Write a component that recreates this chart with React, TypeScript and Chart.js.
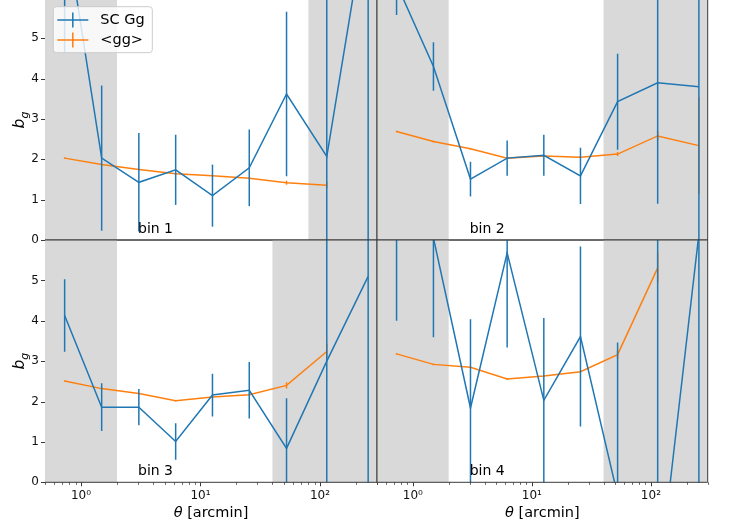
import React, { useEffect, useRef } from "react";
import { Chart, registerables } from "chart.js";

Chart.register(...registerables);

// Angular separation of each measurement [arcmin]
const theta = [0.73, 1.49, 3.05, 6.2, 12.6, 25.6, 52.5, 114, 253];

// Bin 1
const scGgBin1 = [7.9, 2.03, 1.43, 1.74, 1.1, 1.79, 3.62, 2.07, 8.3];
const scGgErrBin1 = [3.25, 1.8, 1.22, 0.87, 0.77, 0.95, 2.04, 5.0, 9.0];
const ggBin1 = [2.03, 1.87, 1.75, 1.64, 1.59, 1.53, 1.42, 1.36, null];
const ggErrBin1 = [0.02, 0.02, 0.02, 0.02, 0.02, 0.02, 0.05, 0.08, null];
const maskedBin1 = [[0.5, 2], [80, 300]];

// Bin 2
const scGgBin2 = [6.35, 4.3, 1.51, 2.03, 2.1, 1.59, 3.43, 3.9, 3.8];
const scGgErrBin2 = [0.77, 0.6, 0.43, 0.44, 0.51, 0.7, 1.19, 3.0, 5.0];
const ggBin2 = [2.69, 2.44, 2.26, 2.03, 2.08, 2.05, 2.13, 2.58, 2.34];
const ggErrBin2 = [0.02, 0.02, 0.02, 0.02, 0.02, 0.02, 0.05, 0.12, 1.2];
const maskedBin2 = [[0.5, 2], [40, 300]];

// Bin 3
const scGgBin3 = [4.13, 1.86, 1.86, 1.01, 2.16, 2.28, 0.84, 3.0, 5.1];
const scGgErrBin3 = [0.9, 0.59, 0.45, 0.45, 0.53, 0.7, 1.24, 4.0, 6.0];
const ggBin3 = [2.51, 2.32, 2.2, 2.02, 2.11, 2.17, 2.4, 3.24, null];
const ggErrBin3 = [0.02, 0.02, 0.02, 0.02, 0.02, 0.02, 0.08, 0.2, null];
const maskedBin3 = [[0.5, 2], [40, 300]];

// Bin 4
const scGgBin4 = [7.0, 6.05, 1.84, 5.68, 2.03, 3.61, -0.32, -2.7, 6.15];
const scGgErrBin4 = [3.0, 2.46, 2.2, 2.34, 2.04, 2.23, 3.78, 9.0, 7.0];
const ggBin4 = [3.18, 2.92, 2.85, 2.56, 2.63, 2.74, 3.16, 5.31, null];
const ggErrBin4 = [0.02, 0.02, 0.02, 0.02, 0.02, 0.02, 0.1, 0.38, null];
const maskedBin4 = [[0.5, 2], [40, 300]];

const binNames = ["bin 1", "bin 2", "bin 3", "bin 4"];
const seriesNames = ["SC Gg", "<gg>"];

// Axis ticks
const yTicks = [0, 1, 2, 3, 4, 5];
const xMajorTicks = [1, 10, 100];
const xTickLabels = ["10\u2070", "10\u00b9", "10\u00b2"];
const xMinorTicks = [0.5, 0.6, 0.7, 0.8, 0.9, 2, 3, 4, 5, 6, 7, 8, 9, 20, 30, 40, 50, 60, 70, 80, 90, 200, 300];

const BLUE = "#1f77b4";
const ORANGE = "#ff7f0e";
const SHADE = "#d9d9d9";
const SPINE = "#3a3a3a";
const TEXT = "#111";
const FONT = "'DejaVu Sans', sans-serif";

const PAGE_W = 733;
const PAGE_H = 527;
const SHIFT = 22; // canvases start above the page so the top panel can run past the edge
const CANVAS_H = PAGE_H + SHIFT;
const COL_X = [[45, 377], [377, 707.7]];
const ROW_Y = [[-2, 240], [240, 482.3]];

type Panel = {
  name: string;
  sc: (number | null)[];
  scErr: (number | null)[];
  gg: (number | null)[];
  ggErr: (number | null)[];
  masked: number[][];
  row: number;
  col: number;
};

const panels: Panel[] = [
  { name: binNames[0], sc: scGgBin1, scErr: scGgErrBin1, gg: ggBin1, ggErr: ggErrBin1, masked: maskedBin1, row: 0, col: 0 },
  { name: binNames[1], sc: scGgBin2, scErr: scGgErrBin2, gg: ggBin2, ggErr: ggErrBin2, masked: maskedBin2, row: 0, col: 1 },
  { name: binNames[2], sc: scGgBin3, scErr: scGgErrBin3, gg: ggBin3, ggErr: ggErrBin3, masked: maskedBin3, row: 1, col: 0 },
  { name: binNames[3], sc: scGgBin4, scErr: scGgErrBin4, gg: ggBin4, ggErr: ggErrBin4, masked: maskedBin4, row: 1, col: 1 },
];

function drawLegend(ctx: CanvasRenderingContext2D) {
  const bx = 53.3;
  const by = 6.7 + SHIFT;
  const bw = 99;
  const bh = 46;
  ctx.save();
  ctx.beginPath();
  if ((ctx as any).roundRect) (ctx as any).roundRect(bx, by, bw, bh, 3);
  else ctx.rect(bx, by, bw, bh);
  ctx.fillStyle = "rgba(255,255,255,0.8)";
  ctx.fill();
  ctx.strokeStyle = "#cccccc";
  ctx.lineWidth = 1;
  ctx.stroke();
  seriesNames.forEach((name, i) => {
    const cy = by + 13.3 + i * 20;
    ctx.strokeStyle = i ? ORANGE : BLUE;
    ctx.lineWidth = 1.5;
    ctx.beginPath();
    ctx.moveTo(57.3, cy);
    ctx.lineTo(88.3, cy);
    ctx.moveTo(72.8, cy - 7.5);
    ctx.lineTo(72.8, cy + 7.5);
    ctx.stroke();
    ctx.fillStyle = "#000";
    ctx.font = `14.5px ${FONT}`;
    ctx.textBaseline = "middle";
    ctx.textAlign = "left";
    ctx.fillText(name, 100.3, cy);
  });
  ctx.restore();
}

function makeChart(canvas: HTMLCanvasElement, p: Panel) {
  const [x0, x1] = COL_X[p.col];
  const [y0, y1] = ROW_Y[p.row];
  const showY = p.col === 0;
  const showX = p.row === 1;
  const values = [p.sc, p.gg];
  const errors = [p.scErr, p.ggErr];
  const colors = [BLUE, ORANGE];

  const decor = {
    id: "panelDecor",
    beforeDatasetsDraw(chart: any) {
      const { ctx, chartArea: a, scales } = chart;
      ctx.save();
      ctx.fillStyle = SHADE;
      for (const [lo, hi] of p.masked) {
        const l = Math.max(a.left, scales.x.getPixelForValue(lo));
        const r = Math.min(a.right, scales.x.getPixelForValue(hi));
        ctx.fillRect(l, a.top, r - l, a.bottom - a.top);
      }
      ctx.restore();
    },
    afterDatasetDraw(chart: any, args: any) {
      const { ctx, chartArea: a, scales } = chart;
      const k = args.index;
      const vals = values[k];
      const errs = errors[k];
      ctx.save();
      ctx.beginPath();
      ctx.rect(a.left, a.top, a.right - a.left, a.bottom - a.top);
      ctx.clip();
      ctx.strokeStyle = colors[k];
      ctx.lineWidth = 1.5;
      theta.forEach((t, i) => {
        const v = vals[i];
        const e = errs[i];
        if (v == null || e == null) return;
        const px = scales.x.getPixelForValue(t);
        ctx.beginPath();
        ctx.moveTo(px, scales.y.getPixelForValue(v - e));
        ctx.lineTo(px, scales.y.getPixelForValue(v + e));
        ctx.stroke();
      });
      ctx.restore();
    },
    afterDraw(chart: any) {
      const { ctx, chartArea: a, scales } = chart;
      ctx.save();

      // bin name
      ctx.fillStyle = "#000";
      ctx.font = `14px ${FONT}`;
      ctx.textAlign = "left";
      ctx.textBaseline = "alphabetic";
      ctx.fillText(p.name, scales.x.getPixelForValue(3), scales.y.getPixelForValue(0.18));

      // frame
      ctx.strokeStyle = SPINE;
      ctx.lineWidth = 1;
      ctx.beginPath();
      ctx.moveTo(a.left, a.top);
      ctx.lineTo(a.right, a.top);
      ctx.moveTo(a.right, a.top);
      ctx.lineTo(a.right, a.bottom);
      ctx.moveTo(a.left, a.bottom);
      ctx.lineTo(a.right, a.bottom);
      if (!showY) {
        ctx.moveTo(a.left, a.top);
        ctx.lineTo(a.left, a.bottom);
      }
      ctx.stroke();

      if (showY) {
        ctx.lineWidth = 1;
        ctx.beginPath();
        for (const v of yTicks) {
          const py = Math.round(scales.y.getPixelForValue(v)) + 0.5;
          ctx.moveTo(a.left - 4, py);
          ctx.lineTo(a.left, py);
        }
        ctx.stroke();

        // y label: italic b with subscript g
        const cy = (Math.max(a.top, SHIFT) + a.bottom) / 2;
        ctx.save();
        ctx.translate(24, cy);
        ctx.rotate(-Math.PI / 2);
        ctx.fillStyle = "#000";
        ctx.textBaseline = "alphabetic";
        ctx.font = `italic 15.5px ${FONT}`;
        const wb = ctx.measureText("b").width;
        ctx.font = `italic 11px ${FONT}`;
        const wg = ctx.measureText("g").width;
        const start = -(wb + wg) / 2;
        ctx.font = `italic 15.5px ${FONT}`;
        ctx.fillText("b", start, 0);
        ctx.font = `italic 11px ${FONT}`;
        ctx.fillText("g", start + wb, 3.5);
        ctx.restore();
      }

      if (showX) {
        ctx.strokeStyle = SPINE;
        ctx.lineWidth = 1;
        ctx.beginPath();
        for (const v of xMajorTicks) {
          const px = Math.round(scales.x.getPixelForValue(v)) + 0.5;
          ctx.moveTo(px, a.bottom);
          ctx.lineTo(px, a.bottom + 4);
        }
        ctx.stroke();
        ctx.lineWidth = 0.8;
        ctx.beginPath();
        for (const v of xMinorTicks) {
          const px = Math.round(scales.x.getPixelForValue(v)) + 0.5;
          ctx.moveTo(px, a.bottom);
          ctx.lineTo(px, a.bottom + 2.5);
        }
        ctx.stroke();

        // x label: italic theta followed by the unit
        const cx = (a.left + a.right) / 2;
        const by = a.bottom + 34.7;
        ctx.fillStyle = "#000";
        ctx.textBaseline = "alphabetic";
        ctx.textAlign = "left";
        ctx.font = `italic 14.5px ${FONT}`;
        const wt = ctx.measureText("\u03b8").width;
        ctx.font = `14.5px ${FONT}`;
        const wu = ctx.measureText(" [arcmin]").width;
        const sx = cx - (wt + wu) / 2;
        ctx.font = `italic 14.5px ${FONT}`;
        ctx.fillText("\u03b8", sx, by);
        ctx.font = `14.5px ${FONT}`;
        ctx.fillText(" [arcmin]", sx + wt, by);
      }

      if (p.row === 0 && p.col === 0) drawLegend(ctx);
      ctx.restore();
    },
  };

  const lineStyle = { borderWidth: 1.5, pointRadius: 0, tension: 0, clip: 0, fill: false };

  return new Chart(canvas, {
    type: "line",
    data: {
      datasets: [
        {
          label: seriesNames[0],
          data: theta.map((t, i) => ({ x: t, y: p.sc[i] })) as any,
          borderColor: BLUE,
          backgroundColor: BLUE,
          ...lineStyle,
        },
        {
          label: seriesNames[1],
          data: theta.map((t, i) => ({ x: t, y: p.gg[i] })) as any,
          borderColor: ORANGE,
          backgroundColor: ORANGE,
          ...lineStyle,
        },
      ],
    },
    options: {
      responsive: false,
      animation: false,
      devicePixelRatio: 1,
      events: [],
      layout: {
        padding: {
          left: showY ? 0 : x0,
          right: PAGE_W - x1,
          top: y0 + SHIFT,
          bottom: showX ? 0 : CANVAS_H - (y1 + SHIFT),
        },
      },
      plugins: { legend: { display: false }, tooltip: { enabled: false } },
      scales: {
        x: {
          type: "logarithmic",
          min: 0.5,
          max: 300,
          bounds: "data",
          display: showX,
          grid: { display: false, drawTicks: false },
          border: { display: false },
          afterBuildTicks: (s: any) => {
            s.ticks = xMajorTicks.map((v) => ({ value: v }));
          },
          afterFit: (s: any) => {
            s.height = showX ? CANVAS_H - (y1 + SHIFT) : 0;
          },
          ticks: {
            autoSkip: false,
            maxRotation: 0,
            minRotation: 0,
            padding: 6,
            color: TEXT,
            font: { family: FONT, size: 12 },
            callback: (v: any) => {
              const i = xMajorTicks.indexOf(Number(v));
              return i >= 0 ? xTickLabels[i] : null;
            },
          },
        },
        y: {
          type: "linear",
          min: 0,
          max: 6,
          bounds: "data",
          display: showY,
          grid: { display: false, drawTicks: false },
          border: { display: false },
          afterBuildTicks: (s: any) => {
            s.ticks = yTicks.map((v) => ({ value: v }));
          },
          afterFit: (s: any) => {
            s.width = showY ? x0 : 0;
          },
          ticks: {
            padding: 6,
            color: TEXT,
            font: { family: FONT, size: 12 },
            callback: (v: any) => String(v),
          },
        },
      },
    } as any,
    plugins: [decor],
  });
}

export default function App() {
  const refs = useRef<(HTMLCanvasElement | null)[]>([]);

  useEffect(() => {
    const charts = panels.map((p, i) => makeChart(refs.current[i] as HTMLCanvasElement, p));
    return () => charts.forEach((c) => c.destroy());
  }, []);

  return (
    <div
      style={{
        position: "fixed",
        left: 0,
        top: 0,
        width: PAGE_W,
        height: PAGE_H,
        overflow: "hidden",
        background: "#fff",
      }}
    >
      {panels.map((p, i) => (
        <canvas
          key={p.name}
          ref={(el) => {
            refs.current[i] = el;
          }}
          width={PAGE_W}
          height={CANVAS_H}
          style={{ position: "absolute", left: 0, top: -SHIFT, width: PAGE_W, height: CANVAS_H }}
        />
      ))}
    </div>
  );
}
